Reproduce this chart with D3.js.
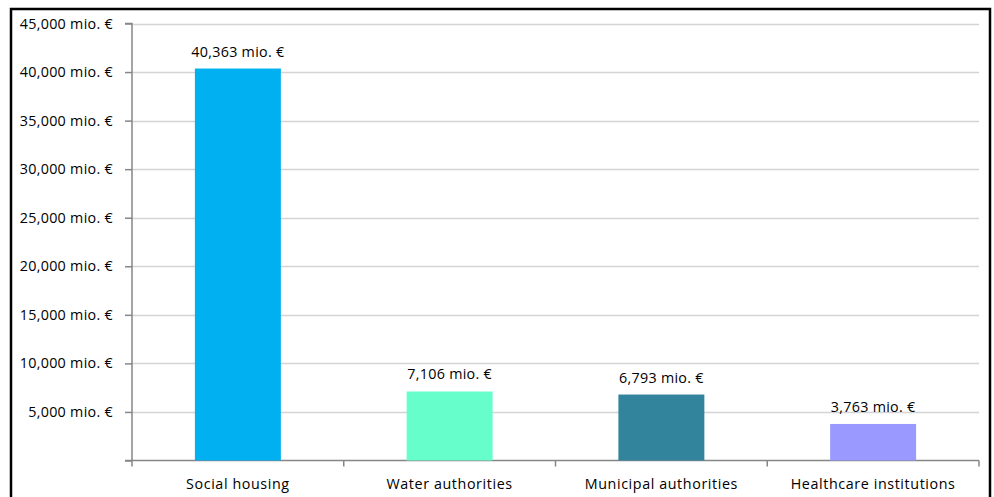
<!DOCTYPE html>
<html><head><meta charset="utf-8">
<script src="https://cdn.jsdelivr.net/npm/d3@7"></script>
<style>
html,body{margin:0;padding:0;background:#fff;}
svg text{font-family:"Open Sans",sans-serif;fill:#000;}
</style></head>
<body>
<svg id="c" width="994" height="497"></svg>
<script>
const categories = ["Social housing","Water authorities","Municipal authorities","Healthcare institutions"];
const values = [40363, 7106, 6793, 3763];
const valueLabels = ["40,363 mio. €","7,106 mio. €","6,793 mio. €","3,763 mio. €"];
const colors = ["#00B0F0","#66FFCC","#31849B","#9999FF"];
const yTicks = [5000,10000,15000,20000,25000,30000,35000,40000,45000];

const svg = d3.select("#c");
const W = 994, H = 497;
const FS = "14.3px", LS = "0.3px";
svg.append("rect").attr("x",0).attr("y",0).attr("width",W).attr("height",H).attr("fill","#fff");
svg.append("rect").attr("x",11).attr("y",9).attr("width",979).attr("height",520)
  .attr("fill","none").attr("stroke","#000").attr("stroke-width",2.5);

const x0 = 132, x1 = 979, yTop = 23.5, yBase = 460.5;
const x = d3.scaleBand().domain(categories).range([x0,x1]).padding(0);
const y = d3.scaleLinear().domain([0,45000]).range([yBase,yTop]);
const barW = x.bandwidth()*0.406;

svg.append("g").selectAll("line").data(yTicks).join("line")
  .attr("x1",x0).attr("x2",x1).attr("y1",d=>Math.round(y(d))+0.5).attr("y2",d=>Math.round(y(d))+0.5)
  .attr("stroke","#d4d4d4").attr("stroke-width",1.5);

const yAxis = d3.axisLeft(y).tickValues([0].concat(yTicks)).tickSize(7).tickPadding(12)
  .tickFormat(d=> d===0 ? "" : d3.format(",")(d)+" mio. €");
const gy = svg.append("g").attr("transform",`translate(${x0},0)`).call(yAxis);
gy.select(".domain").attr("stroke","#868686").attr("stroke-width",1.5).attr("d",`M-7,${yTop}H0V${yBase}`);
gy.selectAll(".tick line").attr("stroke","#868686").attr("stroke-width",1.5);
gy.selectAll(".tick text").style("font-size",FS).style("letter-spacing",LS).attr("fill","#000");

const xTicksPos = d3.range(categories.length+1).map(i=>x0 + i*x.step());
const gx = svg.append("g");
gx.append("line").attr("x1",x0-7).attr("x2",x1).attr("y1",yBase).attr("y2",yBase)
  .attr("stroke","#868686").attr("stroke-width",1.5);
gx.selectAll("line.t").data(xTicksPos).join("line").attr("class","t")
  .attr("x1",d=>d).attr("x2",d=>d).attr("y1",yBase).attr("y2",yBase+6)
  .attr("stroke","#868686").attr("stroke-width",1.5);
gx.selectAll("text").data(categories).join("text")
  .attr("x",d=>x(d)+x.bandwidth()/2).attr("y",489).attr("text-anchor","middle")
  .style("font-size",FS).style("letter-spacing","0.6px").text(d=>d);

svg.append("g").selectAll("rect").data(values).join("rect")
  .attr("x",(d,i)=>x(categories[i])+x.bandwidth()/2-barW/2)
  .attr("width",barW)
  .attr("y",d=>y(d)).attr("height",d=>yBase-y(d))
  .attr("fill",(d,i)=>colors[i]);

svg.append("g").selectAll("text").data(values).join("text")
  .attr("x",(d,i)=>x(categories[i])+x.bandwidth()/2)
  .attr("y",d=>y(d)-12).attr("text-anchor","middle")
  .style("font-size",FS).style("letter-spacing",LS)
  .text((d,i)=>valueLabels[i]);
</script>
</body></html>
